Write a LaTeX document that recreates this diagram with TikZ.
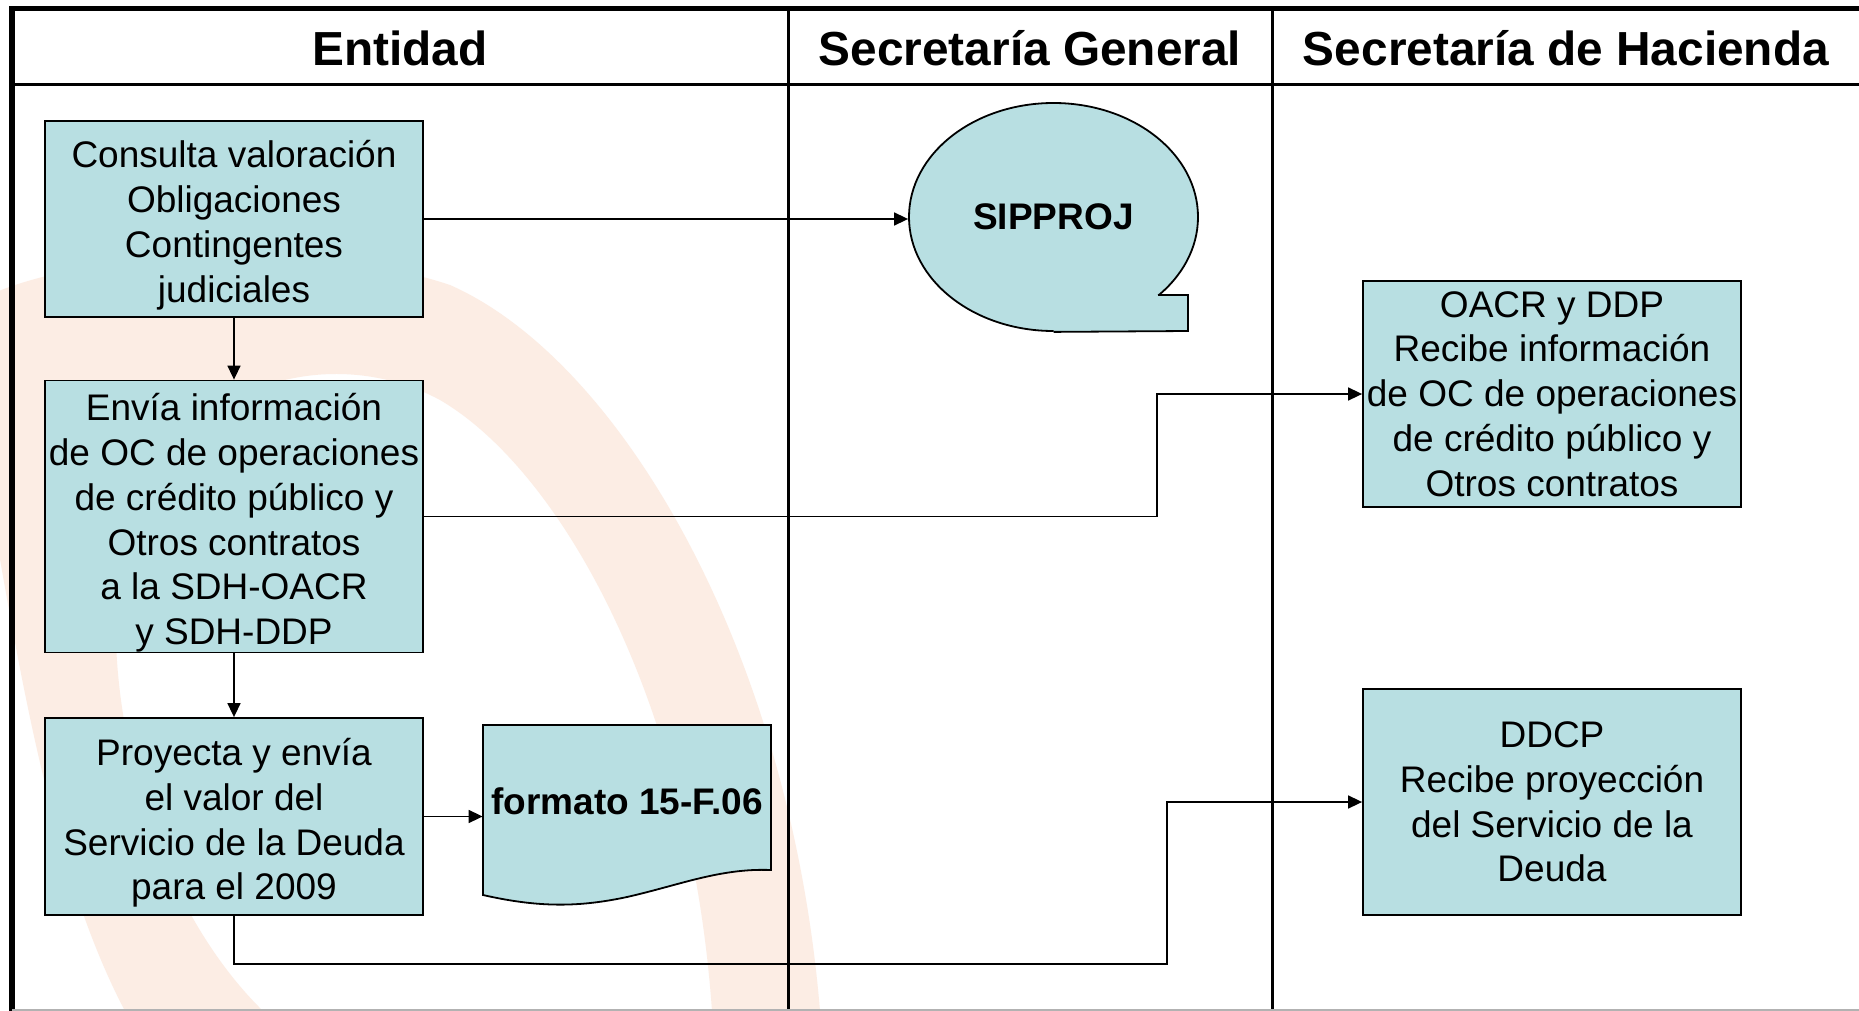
\documentclass[tikz,border=0pt]{standalone}
\usepackage{fontspec}
\setmainfont{Liberation Sans}
\usetikzlibrary{shapes.geometric, arrows.meta}
\definecolor{boxfill}{RGB}{184,223,226}
\definecolor{wmark}{RGB}{252,237,228}
\newcommand{\bodyfont}{\fontsize{18.5}{22.4}\selectfont}
\newcommand{\headfont}{\fontsize{23.9}{28}\selectfont\bfseries}
\newcommand{\topgap}{\rule{0pt}{20pt}}
\tikzset{x=0.5pt, y=-0.5pt,
         >={Triangle[length=7pt, width=6.5pt]},
         proc/.style={draw, fill=boxfill, line width=0.9pt, align=center,
                      inner sep=0pt, minimum width=189pt, font=\bodyfont},
         flow/.style={->, line width=0.8pt},
         lane/.style={line width=1.3pt},
         title/.style={font=\headfont},
         }

\begin{document}
\begin{tikzpicture}
    \useasboundingbox (0,0) rectangle (1859,1011);
    \fill[white] (0,0) rectangle (1859,1011);

    % watermark
    \begin{scope}
        \clip (0,85) rectangle (1859,1011);
        \fill[wmark] (-20,300) .. controls (60,255) and (300,235) .. (450,285)
            .. controls (620,360) and (790,650) .. (820,1011) -- (712,1011)
            .. controls (690,700) and (560,470) .. (440,400)
            .. controls (330,340) and (160,380) .. (120,560)
            .. controls (100,700) and (150,900) .. (263,1011) -- (125,1011)
            .. controls (40,850) and (10,600) .. (-20,450) -- cycle;
    \end{scope}

    % lanes
    \draw[line width=2.8pt] (1859,8.5) -- (12,8.5) -- (12,1011);
    \draw[line width=1.5pt] (12,84.5) -- (1859,84.5);
    \draw[lane] (788.5,8.5) -- (788.5,1011);
    \draw[lane] (1272.5,8.5) -- (1272.5,1011);
    \draw[gray!60, line width=0.6pt] (12,1010) -- (1859,1010);

    \node[title] (entidad) at (400,48) {Entidad};
    \node[title] (secgen) at (1030,48) {Secretaría General};
    \node[title] (sechac) at (1566,48) {Secretaría de Hacienda};

    % Entidad
    \node[proc, minimum height=98pt] (consulta) at (234,219)
        {\topgap Consulta valoración\\Obligaciones\\Contingentes\\judiciales};
    \node[proc, minimum height=136pt] (envia) at (234,516.5)
        {\topgap Envía información\\de OC de operaciones\\de crédito público y\\Otros contratos\\a la SDH-OACR\\y SDH-DDP};
    \node[proc, minimum height=98.5pt] (proyecta) at (234,816.5)
        {\topgap Proyecta y envía\\el valor del\\Servicio de la Deuda\\para el 2009};

    \draw[fill=boxfill, line width=0.9pt] (483,725) -- (771,725) -- (771,870)
        .. controls (720,868) and (680,885) .. (627,897)
        .. controls (580,907) and (540,908) .. (483,895) -- cycle;
    \node[minimum width=144pt, minimum height=72.5pt, inner sep=0pt,
          font=\bodyfont\bfseries] (formato) at (627,801) {formato 15-F.06};

    % Secretaria General
    \node[ellipse, draw, fill=boxfill, line width=0.9pt, minimum width=144.5pt,
          minimum height=114pt, inner sep=0pt, font=\bodyfont\bfseries]
          (sipproj) at (1053.5,217) {SIPPROJ};
    \fill[boxfill] (sipproj.south) -- (1188,331) -- (1188,295) -- (1158,295)
        -- (1110,300) -- (1053.5,320) -- cycle;
    \draw[line width=0.9pt] (sipproj.south) -- (1188,331) -- (1188,295) -- (1158,295);

    % Secretaria de Hacienda
    \node[proc, minimum height=113pt] (recibeoc) at (1552,394)
        {OACR y DDP\\Recibe información\\de OC de operaciones\\de crédito público y\\Otros contratos};
    \node[proc, minimum height=113pt] (recibeds) at (1552,802)
        {DDCP\\Recibe proyección\\del Servicio de la\\Deuda};

    % flows
    \draw[flow] (consulta.east) -- (consulta.east -| sipproj.west);
    \draw[flow] (consulta.south) -- (envia.north);
    \draw[flow] (envia.south) -- (proyecta.north);
    \draw[flow] (envia.east) -| ([xshift=-102.5pt]recibeoc.west) -- (recibeoc.west);
    \draw[flow] (proyecta.east) -- (proyecta.east -| formato.west);
    \draw[flow] (proyecta.south) -- ++(0,48) -| ([xshift=-97.5pt]recibeds.west) -- (recibeds.west);
\end{tikzpicture}
\end{document}
